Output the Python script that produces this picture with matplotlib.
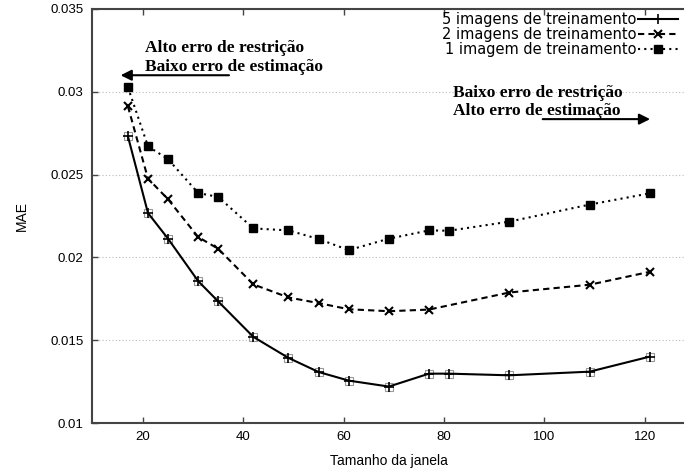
import matplotlib.pyplot as plt

# window sizes and MAE for each training-set size
janela = [17, 21, 25, 31, 35, 42, 49, 55, 61, 69, 77, 81, 93, 109, 121]
mae_5 = [0.02732, 0.02268, 0.02113, 0.01857, 0.01734, 0.01520, 0.01393, 0.01308,
         0.01256, 0.01220, 0.01298, 0.01298, 0.01288, 0.01310, 0.01401]
janela_2 = [17, 21, 25, 31, 35, 42, 49, 55, 61, 69, 77, 93, 109, 121]
mae_2 = [0.02913, 0.02476, 0.02351, 0.02123, 0.02052, 0.01837, 0.01758, 0.01724,
         0.01687, 0.01675, 0.01685, 0.01788, 0.01835, 0.01913]
mae_1 = [0.03028, 0.02671, 0.02593, 0.02389, 0.02365, 0.02175, 0.02163, 0.02111,
         0.02044, 0.02113, 0.02163, 0.02161, 0.02216, 0.02319, 0.02387]

yticks = [0.01, 0.015, 0.02, 0.025, 0.03, 0.035]
ytick_labels = ["0.01", "0.015", "0.02", "0.025", "0.03", "0.035"]
xticks = [20, 40, 60, 80, 100, 120]

fig = plt.figure(figsize=(6.84, 4.73), dpi=100)
ax = fig.add_axes([92 / 684, 50 / 473, 594 / 684, 414 / 473])

ax.plot(janela, mae_5, color="black", lw=1.5, ls="-", marker="+", ms=7,
        mew=1.2, label="5 imagens de treinamento", zorder=3)
ax.plot(janela, mae_5, ls="none", marker="s", ms=6, mfc="none", mec="#999999",
        mew=0.8, zorder=2)
ax.plot(janela_2, mae_2, color="black", lw=1.5, ls=(0, (3, 2)), marker="x", ms=6,
        mew=1.5, label="2 imagens de treinamento", zorder=3)
ax.plot(janela, mae_1, color="black", lw=1.5, ls=(0, (1, 2)), marker="s", ms=5.5,
        label="1 imagem de treinamento", zorder=3)

ax.set_xlim(9.85, 128.2)
ax.set_ylim(0.01, 0.035)
ax.set_xticks(xticks)
ax.set_yticks(yticks)
ax.set_yticklabels(ytick_labels)
ax.tick_params(direction="in", top=True, right=False, length=4, width=1,
               labelsize=9.5, color="#444444", pad=6)
for lab in ax.get_xticklabels() + ax.get_yticklabels():
    lab.set_family("Liberation Sans")
for side in ["left", "bottom", "top", "right"]:
    ax.spines[side].set_linewidth(1.5)
    ax.spines[side].set_color("#444444")

ax.grid(axis="y", ls=(0, (1, 2)), color="#bbbbbb", lw=0.8)

ax.set_xlabel("Tamanho da janela", family="Liberation Sans", fontsize=10, labelpad=8)
ax.set_ylabel("MAE", family="Liberation Sans", fontsize=10)
ax.yaxis.set_label_coords(-0.106, 0.5)

ax.legend(loc="upper right", bbox_to_anchor=(1.003, 1.017), frameon=False,
          markerfirst=False, handlelength=2.7, handletextpad=0.15, labelspacing=0.0,
          borderaxespad=0.3, prop={"family": "DejaVu Sans", "size": 10.5})

anno = dict(family="Liberation Serif", fontweight="bold", fontsize=12.5)
ax.text(20.4, 0.03266, "Alto erro de restrição", va="center", **anno)
ax.text(20.4, 0.03151, "Baixo erro de estimação", va="center", **anno)
ax.annotate("", xy=(15.0, 0.0310), xytext=(37.7, 0.0310),
            arrowprops=dict(arrowstyle="-|>", color="black", lw=1.5,
                            mutation_scale=16))

ax.text(81.8, 0.02990, "Baixo erro de restrição", va="center", **anno)
ax.text(81.8, 0.02885, "Alto erro de estimação", va="center", **anno)
ax.annotate("", xy=(121.6, 0.02835), xytext=(99.1, 0.02835),
            arrowprops=dict(arrowstyle="-|>", color="black", lw=1.5,
                            mutation_scale=16))

fig.savefig("out.png", dpi=100)
